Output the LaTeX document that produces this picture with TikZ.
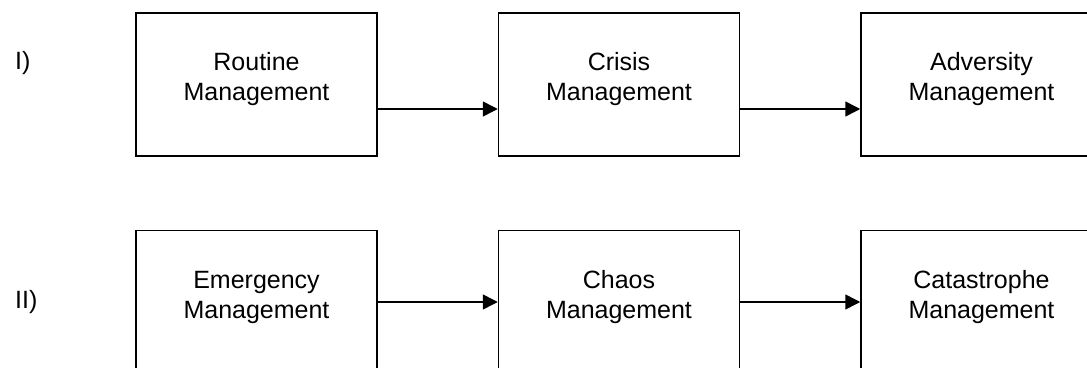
\documentclass[tikz,border=0pt]{standalone}
\usepackage{fontspec}
\setmainfont{Liberation Sans}
\usepackage{tikz}
\usetikzlibrary{positioning,arrows.meta,calc}
\tikzset{
  stage/.style={draw=black, line width=1.5pt, minimum width=241pt, minimum height=143pt,
                inner sep=0pt},
  stagetext/.style={align=center, inner sep=0pt, yshift=5pt,
                    font=\fontsize{25}{30}\selectfont},
  flow/.style={-{Triangle[length=15pt, width=15pt]}, line width=1.5pt},
  rowlbl/.style={anchor=west, inner sep=0pt, font=\fontsize{25}{30}\selectfont}
}
\begin{document}
\begin{tikzpicture}[x=1pt, y=1pt]
\useasboundingbox (0,0) rectangle (1087,-367);
% row I
\node[stage, label={[stagetext]center:{\strut Routine\\\strut Management}}] (r1) at (256.5,-84.5) {};
\node[stage, right=120pt of r1, label={[stagetext]center:{\strut Crisis\\\strut Management}}] (r2) {};
\node[stage, right=120pt of r2, label={[stagetext]center:{\strut Adversity\\\strut Management}}] (r3) {};
\node[rowlbl] (l1) at (15,-63) {I)};
% row II
\node[stage, below=73pt of r1, label={[stagetext]center:{\strut Emergency\\\strut Management}}] (s1) {};
\node[stage, right=120pt of s1, label={[stagetext]center:{\strut Chaos\\\strut Management}}] (s2) {};
\node[stage, right=120pt of s2, label={[stagetext]center:{\strut Catastrophe\\\strut Management}}] (s3) {};
\node[rowlbl] (l2) at (15,-302) {II)};
% arrows
\draw[flow] ([yshift=-24.5pt]r1.east) -- ([yshift=-24.5pt]r2.west);
\draw[flow] ([yshift=-24.5pt]r2.east) -- ([yshift=-24.5pt]r3.west);
\draw[flow] (s1.east) -- (s2.west);
\draw[flow] (s2.east) -- (s3.west);
\end{tikzpicture}
\end{document}
